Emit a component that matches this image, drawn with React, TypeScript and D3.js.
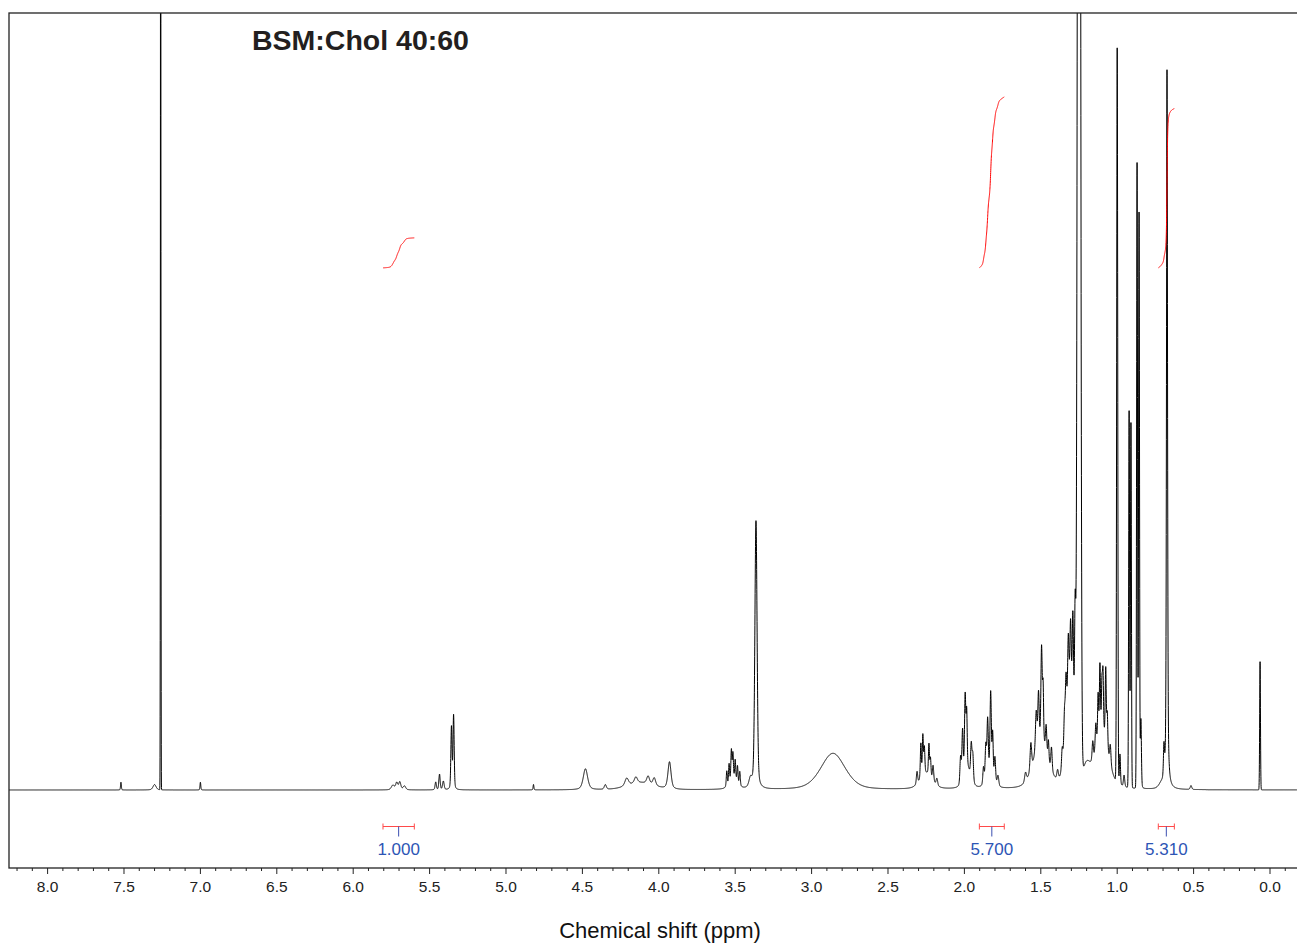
import React, { useMemo } from 'react';
import * as d3 from 'd3';

// ---------- data ----------
const TITLE = 'BSM:Chol 40:60';
const X_LABEL = 'Chemical shift (ppm)';
const majorTicks = [8.0, 7.5, 7.0, 6.5, 6.0, 5.5, 5.0, 4.5, 4.0, 3.5, 3.0, 2.5, 2.0, 1.5, 1.0, 0.5, 0.0];

// peak positions (ppm), heights (% of frame above baseline), half widths (ppm), Lorentz fraction
const peakPpm = [
  7.52, 7.30, 7.26, 7.00,
  5.74, 5.715, 5.695, 5.665,
  5.46, 5.435, 5.41, 5.357, 5.343,
  4.82, 4.48, 4.35, 4.21, 4.15, 4.07, 4.03, 4.12, 3.93,
  3.555, 3.54, 3.525, 3.515, 3.50, 3.485, 3.47, 3.51, 3.40, 3.364,
  2.86,
  2.31, 2.285, 2.272, 2.262, 2.232, 2.222, 2.205, 2.18, 2.25,
  2.025, 2.012, 1.995, 1.985, 1.955, 1.945, 1.98,
  1.875, 1.86, 1.848, 1.828, 1.815, 1.80, 1.78, 1.83,
  1.60, 1.565, 1.53, 1.515, 1.495, 1.485, 1.465, 1.45, 1.43, 1.39, 1.50,
  1.36, 1.345, 1.335, 1.32, 1.305, 1.29, 1.275, 1.31,
  1.25,
  1.20, 1.16, 1.14, 1.125, 1.113, 1.10, 1.093, 1.075, 1.065, 1.045, 1.10,
  1.00, 0.982, 0.955, 0.922, 0.910, 0.870, 0.857, 0.845,
  0.71, 0.694, 0.674, 0.517, 0.065,
];
const peakHeight = [
  1.0, 0.7, 150, 1.0,
  0.6, 0.9, 1.0, 0.5,
  1.0, 2.0, 1.1, 8.0, 9.5,
  0.7, 2.7, 0.6, 1.0, 0.8, 1.0, 1.0, 0.9, 3.5,
  2.0, 2.6, 4.0, 3.4, 2.6, 2.2, 1.8, 1.2, 1.2, 34.5,
  4.7,
  1.6, 4.5, 5.2, 3.4, 4.0, 2.4, 2.0, 0.9, 2.0,
  3.5, 6.5, 10.0, 7.0, 4.4, 3.5, 2.5,
  2.2, 4.5, 7.2, 10.0, 5.2, 3.0, 1.3, 2.3,
  1.2, 3.5, 5.0, 6.5, 12.0, 7.0, 3.5, 2.6, 3.0, 1.2, 6.0,
  2.5, 4.5, 6.5, 8.0, 9.0, 13.0, 18.0, 12.0,
  290,
  2.5, 2.5, 3.5, 6.0, 9.0, 6.0, 7.5, 9.5, 4.5, 2.5, 7.0,
  94.5, 4.0, 1.5, 48.5, 47.0, 80.5, 74.0, 9.0,
  0.6, 4.0, 92.5, 0.5, 16.5,
];
const peakWidth = [
  0.003, 0.012, 0.0018, 0.003,
  0.012, 0.008, 0.008, 0.01,
  0.005, 0.005, 0.006, 0.0045, 0.0045,
  0.003, 0.017, 0.008, 0.014, 0.012, 0.011, 0.011, 0.1, 0.012,
  0.004, 0.004, 0.004, 0.004, 0.004, 0.004, 0.004, 0.03, 0.012, 0.0085,
  0.095,
  0.005, 0.004, 0.004, 0.004, 0.004, 0.004, 0.005, 0.006, 0.045,
  0.005, 0.005, 0.005, 0.004, 0.005, 0.005, 0.025,
  0.005, 0.005, 0.005, 0.005, 0.004, 0.005, 0.006, 0.025,
  0.007, 0.006, 0.006, 0.005, 0.005, 0.004, 0.005, 0.004, 0.005, 0.006, 0.055,
  0.005, 0.005, 0.005, 0.005, 0.005, 0.005, 0.005, 0.03,
  0.0093,
  0.03, 0.005, 0.005, 0.004, 0.004, 0.004, 0.004, 0.004, 0.004, 0.005, 0.05,
  0.004, 0.004, 0.005, 0.0035, 0.0035, 0.0035, 0.0035, 0.004,
  0.02, 0.004, 0.004, 0.006, 0.003,
];
const peakLorentz = [
  0.3, 0.5, 0, 0.3,
  0.4, 0.4, 0.4, 0.4,
  0.3, 0.3, 0.3, 0.3, 0.3,
  0.3, 0.5, 0.4, 0.5, 0.5, 0.5, 0.5, 0.3, 0.5,
  0.3, 0.3, 0.3, 0.3, 0.3, 0.3, 0.3, 0.5, 0.5, 0.3,
  0.4,
  0.3, 0.3, 0.3, 0.3, 0.3, 0.3, 0.3, 0.3, 0.5,
  0.3, 0.3, 0.3, 0.3, 0.3, 0.3, 0.5,
  0.3, 0.3, 0.3, 0.3, 0.3, 0.3, 0.3, 0.5,
  0.3, 0.3, 0.3, 0.3, 0.3, 0.3, 0.3, 0.3, 0.3, 0.3, 0.4,
  0.3, 0.3, 0.3, 0.3, 0.3, 0.3, 0.3, 0.3,
  0,
  0.3, 0.3, 0.3, 0.3, 0.3, 0.3, 0.3, 0.3, 0.3, 0.3, 0.4,
  0, 0.3, 0.3, 0, 0, 0, 0, 0.2,
  0.3, 0.3, 0.5, 0.3, 0,
];

// integration regions
const integralStart = [5.805, 1.902, 0.731];
const integralEnd = [5.60, 1.739, 0.626];
const integralValue = [1.0, 5.7, 5.31];

// ---------- layout ----------
const W = 1297;
const H = 944;
const FRAME = { left: 9, top: 13, right: 1300, bottom: 868 };
const X_DOMAIN: [number, number] = [8.2526, -0.1767];
const Y_DOMAIN: [number, number] = [-10.04, 100];
const INT_BASE = 67.2; // where integral curves start (intensity units)
const INT_UNIT = 3.86; // intensity units per integral unit
const FONT = '"Liberation Sans", Arial, Helvetica, sans-serif';

function intensity(p: number): number {
  let s = 0;
  for (let i = 0; i < peakPpm.length; i++) {
    const d = (p - peakPpm[i]) / peakWidth[i];
    const d2 = d * d;
    if (d2 > 4000) continue;
    const eta = peakLorentz[i];
    s += peakHeight[i] * (eta / (1 + d2) + (1 - eta) * Math.exp(-Math.LN2 * d2));
  }
  return s;
}

export default function App() {
  const x = d3.scaleLinear().domain(X_DOMAIN).range([FRAME.left, W]);
  const y = d3.scaleLinear().domain(Y_DOMAIN).range([FRAME.bottom, FRAME.top]);

  const spectrum = useMemo(() => {
    const grid: number[] = [];
    for (let i = 0; ; i++) {
      const p = X_DOMAIN[0] - i * 0.0005;
      if (p < X_DOMAIN[1]) break;
      grid.push(p);
    }
    peakPpm.forEach((p) => grid.push(p));
    grid.sort((a, b) => b - a);
    return grid.map((p) => ({ p, v: intensity(p) }));
  }, []);

  const line = d3
    .line<{ p: number; v: number }>()
    .x((d) => x(d.p))
    .y((d) => y(d.v));

  const integrals = integralStart.map((s, k) => {
    const e = integralEnd[k];
    const pts = spectrum.filter((d) => d.p <= s && d.p >= e);
    const cum: number[] = [0];
    for (let i = 1; i < pts.length; i++) {
      cum.push(cum[i - 1] + ((pts[i - 1].v + pts[i].v) / 2) * (pts[i - 1].p - pts[i].p));
    }
    const total = cum[cum.length - 1] || 1;
    const curve = pts.map((d, i) => ({ p: d.p, v: INT_BASE + (cum[i] / total) * integralValue[k] * INT_UNIT }));
    return { curve, s, e, mid: (s + e) / 2, value: integralValue[k] };
  });

  const minorTicks = d3.range(-1, 83).map((i) => i / 10).filter((t) => Math.abs(t * 2 - Math.round(t * 2)) > 1e-6);

  const BR_Y = 826.5;

  return (
    <svg
      width={W}
      height={H}
      style={{ position: 'absolute', left: 0, top: 0, background: '#fff' }}
      fontFamily={FONT}
    >
      <defs>
        <clipPath id="plotClip">
          <rect x={FRAME.left} y={FRAME.top} width={FRAME.right - FRAME.left} height={FRAME.bottom - FRAME.top} />
        </clipPath>
      </defs>
      <rect x={0} y={0} width={W} height={H} fill="#fff" />
      <g clipPath="url(#plotClip)">
        <path d={line(spectrum) || ''} fill="none" stroke="#000" strokeWidth={1} />
        {integrals.map((it, k) => (
          <path key={k} d={line(it.curve) || ''} fill="none" stroke="#ff0000" strokeWidth={1} />
        ))}
      </g>
      {/* integral brackets */}
      {integrals.map((it, k) => (
        <g key={'b' + k}>
          <line x1={x(it.s)} x2={x(it.e)} y1={BR_Y} y2={BR_Y} stroke="#ff4a4a" strokeWidth={1} />
          <line x1={x(it.s)} x2={x(it.s)} y1={BR_Y - 3} y2={BR_Y + 3} stroke="#ff4a4a" strokeWidth={1} />
          <line x1={x(it.e)} x2={x(it.e)} y1={BR_Y - 3} y2={BR_Y + 3} stroke="#ff4a4a" strokeWidth={1} />
          <line x1={x(it.mid)} x2={x(it.mid)} y1={BR_Y} y2={BR_Y + 10} stroke="#3b4fb0" strokeWidth={1} />
          <text x={x(it.mid)} y={855} textAnchor="middle" fontSize={17} fill="#2d55b5">
            {it.value.toFixed(3)}
          </text>
        </g>
      ))}
      {/* frame */}
      <rect
        x={FRAME.left}
        y={FRAME.top}
        width={FRAME.right - FRAME.left}
        height={FRAME.bottom - FRAME.top}
        fill="none"
        stroke="#222"
        strokeWidth={1.3}
      />
      {/* axis ticks */}
      {majorTicks.map((t) => (
        <g key={'M' + t}>
          <line x1={x(t)} x2={x(t)} y1={FRAME.bottom} y2={FRAME.bottom + 6} stroke="#222" strokeWidth={1} />
          <text x={x(t)} y={892} textAnchor="middle" fontSize={15.5} fill="#222">
            {d3.format('.1f')(t)}
          </text>
        </g>
      ))}
      {minorTicks.map((t) => (
        <line key={'m' + t} x1={x(t)} x2={x(t)} y1={FRAME.bottom} y2={FRAME.bottom + 3} stroke="#222" strokeWidth={1} />
      ))}
      <text x={660} y={938} textAnchor="middle" fontSize={22} fill="#111">
        {X_LABEL}
      </text>
      <text x={252} y={50} fontSize={28.5} fontWeight="bold" fill="#231f20">
        {TITLE}
      </text>
    </svg>
  );
}
